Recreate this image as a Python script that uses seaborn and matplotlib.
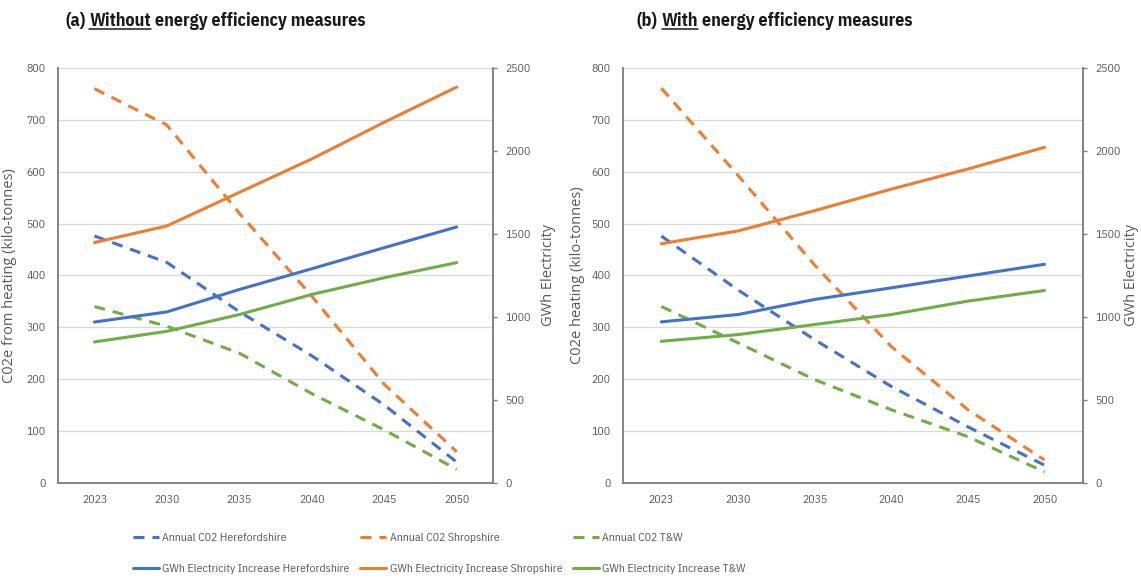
import numpy as np
import pandas as pd
import matplotlib
matplotlib.use("Agg")
import matplotlib.pyplot as plt
import seaborn as sns
from matplotlib.lines import Line2D

# ---- data ----
years = ["2023", "2030", "2035", "2040", "2045", "2050"]
regions = ["Herefordshire", "Shropshire", "T&W"]

# (a) without energy efficiency measures
co2_a_hereford = [476, 425, 330, 245, 150, 40]
co2_a_shrop = [760, 690, 520, 360, 190, 60]
co2_a_tw = [340, 302, 250, 172, 102, 26]
gwh_a_hereford = [969, 1030, 1165, 1290, 1417, 1542]
gwh_a_shrop = [1448, 1548, 1750, 1952, 2173, 2385]
gwh_a_tw = [849, 913, 1014, 1135, 1236, 1327]

# (b) with energy efficiency measures
co2_b_hereford = [476, 372, 276, 186, 108, 34]
co2_b_shrop = [761, 593, 420, 263, 141, 44]
co2_b_tw = [340, 270, 199, 141, 89, 21]
gwh_b_hereford = [970, 1014, 1105, 1175, 1246, 1317]
gwh_b_shrop = [1441, 1518, 1640, 1770, 1891, 2022]
gwh_b_tw = [853, 893, 954, 1014, 1095, 1159]

colors = {"Herefordshire": "#4472C4", "Shropshire": "#ED7D31", "T&W": "#70AD47"}
narrow = ["IBM Plex Sans Condensed", "DejaVu Sans"]
wide = ["Open Sans", "DejaVu Sans"]
grey = "#595959"

sns.set_style("white")
plt.rcParams["font.family"] = narrow


def panel(rect, co2, gwh, left_label, lab_x):
    ax = fig.add_axes(rect)
    ax2 = ax.twinx()
    for reg, c_vals, g_vals in zip(regions, co2, gwh):
        d1 = pd.DataFrame({"year": years, "val": c_vals})
        d2 = pd.DataFrame({"year": years, "val": g_vals})
        sns.lineplot(data=d1, x="year", y="val", ax=ax, color=colors[reg], lw=2.2,
                     label="Annual C02 " + reg)
        ax.lines[-1].set_dashes((3.6, 2.6))
        sns.lineplot(data=d2, x="year", y="val", ax=ax2, color=colors[reg], lw=2.2,
                     label="GWh Electricity Increase " + reg)
    ax.set_ylim(0, 800)
    ax.set_yticks(range(0, 801, 100))
    ax2.set_ylim(0, 2500)
    ax2.set_yticks(range(0, 2501, 500))
    ax.set_xlim(-0.5, 5.5)
    ax.grid(axis="y", color="#D9D9D9", lw=0.9)
    ax.set_axisbelow(True)
    for a in (ax, ax2):
        a.spines["top"].set_visible(False)
        for s in ("left", "right", "bottom"):
            a.spines[s].set_color("#808080")
            a.spines[s].set_linewidth(1.1)
        a.tick_params(labelsize=8.5, labelcolor=grey, colors="#808080")
    ax.tick_params(axis="y", length=0, pad=9)
    ax.tick_params(axis="x", length=0, pad=9)
    ax2.tick_params(axis="y", length=3, width=1, pad=6)
    ax.set_xlabel("")
    ax2.set_xlabel("")
    ax.set_ylabel(left_label, fontsize=10.5, color=grey, family=wide)
    ax2.set_ylabel("GWh Electricity", fontsize=10.5, color=grey, family=wide)
    ax.yaxis.set_label_coords(lab_x[0], 0.5)
    ax2.yaxis.set_label_coords(lab_x[1], 0.5)
    h1, l1 = ax.get_legend_handles_labels()
    h2, l2 = ax2.get_legend_handles_labels()
    ax.get_legend().remove()
    ax2.get_legend().remove()
    return h1, l1, h2, l2


fig = plt.figure(figsize=(11.41, 5.81), dpi=100)
h1, l1, h2, l2 = panel([0.051, 0.169, 0.381, 0.714],
                       [co2_a_hereford, co2_a_shrop, co2_a_tw],
                       [gwh_a_hereford, gwh_a_shrop, gwh_a_tw],
                       "C02e from heating (kilo-tonnes)", (-0.095, 1.11))
panel([0.546, 0.169, 0.403, 0.714],
      [co2_b_hereford, co2_b_shrop, co2_b_tw],
      [gwh_b_hereford, gwh_b_shrop, gwh_b_tw],
      "C02e heating (kilo-tonnes)", (-0.083, 1.09))

# legend: dashed on first row, solid on second
handles, labels = [], []
for i in range(3):
    handles += [h1[i], h2[i]]
    labels += [l1[i], l2[i]]
for h in handles[0::2]:
    h.set_dashes((3.6, 2.6))
fig.legend(handles, labels, ncol=3, loc="center", bbox_to_anchor=(0.385, 0.047),
           frameon=False, fontsize=8.5, labelcolor=grey, handlelength=2.2,
           handletextpad=0.3, columnspacing=0.9, labelspacing=1.75)


# titles with underlined word
def title(x, y, pre, word, post):
    kw = dict(fontsize=13, weight="bold", va="baseline", color="#1a1a1a")
    t1 = fig.text(x, y, pre, **kw)
    fig.canvas.draw()
    r = fig.canvas.get_renderer()
    inv = fig.transFigure.inverted()
    ypx = fig.transFigure.transform((x, y))[1]
    gap = 4
    b1 = t1.get_window_extent(r)
    t2 = fig.text(*inv.transform((b1.x1 + gap, ypx)), word, **kw)
    fig.canvas.draw()
    b2 = t2.get_window_extent(r)
    fig.text(*inv.transform((b2.x1 + gap, ypx)), post, **kw)
    p0 = inv.transform((b2.x0, ypx - 3))
    p1 = inv.transform((b2.x1, ypx - 3))
    fig.add_artist(Line2D([p0[0], p1[0]], [p0[1], p1[1]], color="#1a1a1a", lw=1.1,
                          transform=fig.transFigure))


title(0.057, 0.955, "(a)", "Without", "energy efficiency measures")
title(0.558, 0.955, "(b)", "With", "energy efficiency measures")

fig.savefig("out.png", dpi=100, facecolor="white")
